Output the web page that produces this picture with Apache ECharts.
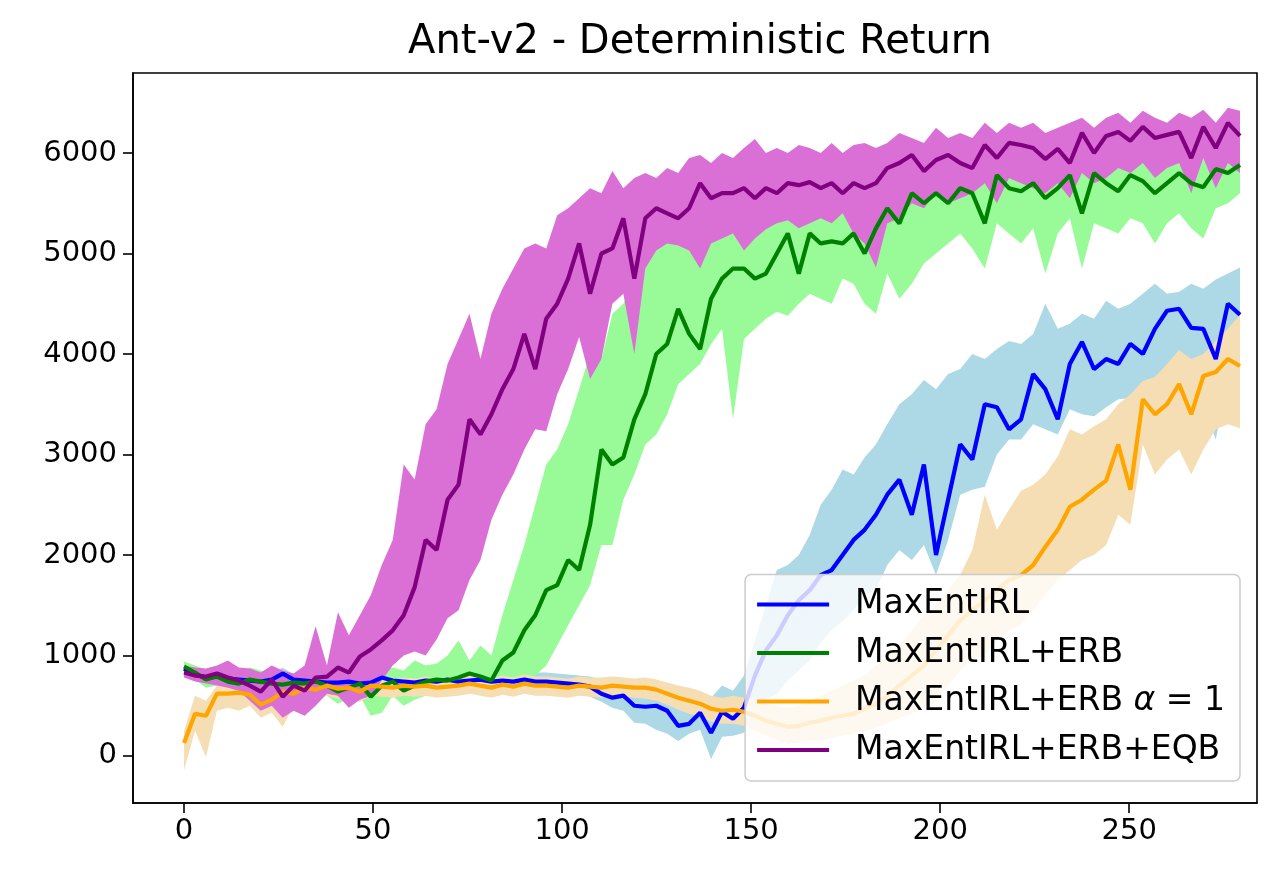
<!DOCTYPE html>
<html>
<head>
<meta charset="utf-8">
<title>Ant-v2 - Deterministic Return</title>
<script src="https://cdn.jsdelivr.net/npm/echarts@6/dist/echarts.min.js"></script>
<style>
  html, body { margin: 0; padding: 0; background: #fff; }
  #chart { width: 1280px; height: 885px; }
</style>
</head>
<body>
<div id="chart"></div>
<script>
// iteration of each sample
var xs = [0, 2.9, 5.8, 8.7, 11.6, 14.5, 17.4, 20.3, 23.2, 26.1,
  29.0, 31.9, 34.8, 37.8, 40.7, 43.6, 46.5, 49.4, 52.3, 55.2,
  58.1, 61.0, 63.9, 66.8, 69.7, 72.6, 75.5, 78.4, 81.3, 84.2,
  87.1, 90.0, 92.9, 95.8, 98.7, 101.6, 104.5, 107.4, 110.4, 113.3,
  116.2, 119.1, 122.0, 124.9, 127.8, 130.7, 133.6, 136.5, 139.4, 142.3,
  145.2, 148.1, 151.0, 153.9, 156.8, 159.7, 162.6, 165.5, 168.4, 171.3,
  174.2, 177.1, 180.0, 183.0, 186.0, 189.2, 192.5, 195.7, 198.9, 202.1,
  205.3, 208.5, 211.8, 215.0, 218.2, 221.4, 224.6, 227.8, 231.1, 234.3,
  237.5, 240.7, 243.9, 247.1, 250.3, 253.6, 256.8, 260.0, 263.2, 266.4,
  269.6, 272.9, 276.1, 279.3];

// MaxEntIRL
var blueMean = [870, 810, 780, 790, 770, 760, 750, 740, 760, 820,
  760, 750, 740, 730, 730, 740, 720, 730, 780, 750,
  740, 730, 750, 740, 760, 740, 750, 760, 740, 750,
  740, 760, 740, 740, 730, 720, 710, 690, 620, 580,
  600, 500, 490, 500, 450, 300, 320, 430, 230, 440,
  370, 480, 800, 1050, 1200, 1400, 1550, 1650, 1800, 1850,
  2000, 2150, 2250, 2400, 2600, 2750, 2400, 2900, 2000, 2550,
  3100, 2950, 3500, 3470, 3250, 3350, 3800, 3650, 3350, 3900,
  4120, 3850, 3950, 3900, 4100, 4000, 4250, 4430, 4450, 4260,
  4250, 3950, 4500, 4390];
var blueUpper = [920, 870, 840, 840, 820, 810, 800, 800, 820, 880,
  810, 800, 800, 790, 790, 800, 780, 790, 840, 810,
  800, 790, 820, 800, 830, 810, 820, 830, 820, 830,
  820, 840, 830, 830, 820, 810, 800, 790, 760, 720,
  740, 660, 650, 670, 630, 560, 600, 640, 580, 700,
  650, 800, 1150, 1500, 1850, 1900, 2000, 2200, 2500, 2650,
  2850, 2800, 2970, 3100, 3300, 3500, 3600, 3740, 3650, 3800,
  3850, 4000, 3950, 4050, 4130, 4100, 4200, 4500, 4250, 4300,
  4400, 4350, 4530, 4450, 4500, 4600, 4700, 4600, 4620, 4700,
  4650, 4740, 4800, 4860];
var blueLower = [820, 760, 730, 740, 720, 710, 700, 690, 700, 760,
  710, 700, 690, 680, 680, 690, 670, 680, 720, 700,
  690, 680, 700, 690, 700, 690, 700, 700, 690, 700,
  690, 700, 690, 680, 660, 640, 620, 590, 540, 480,
  450, 330, 320, 260, 220, 150, 220, 260, -30, 190,
  200, 230, 480, 560, 620, 750, 850, 950, 1130, 1250,
  1340, 1450, 1600, 1650, 1900, 2050, 1950, 2100, 1800, 2150,
  2600, 2650, 2680, 3000, 3150, 3150, 3300, 3250, 3200, 3450,
  3400, 3380, 3470, 3550, 3560, 3600, 3650, 3700, 3800, 3650,
  3480, 3150, 3750, 3700];

// MaxEntIRL+ERB
var greenMean = [890, 830, 760, 790, 740, 720, 760, 740, 720, 710,
  730, 720, 740, 700, 640, 680, 720, 590, 700, 740,
  650, 700, 740, 760, 750, 780, 820, 790, 750, 950,
  1030, 1250, 1400, 1650, 1700, 1950, 1850, 2300, 3050, 2900,
  2970, 3350, 3600, 4000, 4100, 4450, 4200, 4050, 4550, 4750,
  4850, 4850, 4750, 4800, 5000, 5200, 4800, 5200, 5100, 5120,
  5100, 5200, 5000, 5250, 5450, 5300, 5600, 5500, 5600, 5500,
  5650, 5600, 5300, 5780, 5650, 5620, 5700, 5550, 5650, 5780,
  5400, 5800, 5700, 5620, 5780, 5720, 5600, 5700, 5800, 5700,
  5660, 5840, 5800, 5880];
var greenUpper = [940, 900, 860, 880, 850, 830, 880, 850, 820, 850,
  820, 830, 850, 820, 800, 820, 860, 780, 850, 880,
  850, 950, 900, 920, 1000, 1150, 950, 1100, 1000, 1400,
  1750, 2100, 2500, 2900, 3050, 3300, 3650, 4000, 3950, 4400,
  4500, 4750, 4950, 5100, 5200, 5250, 5200, 5370, 5400, 5450,
  5350, 5450, 5500, 5480, 5540, 5620, 5560, 5600, 5580, 5620,
  5680, 5650, 5600, 5700, 5760, 5720, 5800, 5800, 5850, 5800,
  5900, 5850, 5750, 5950, 5900, 5850, 5950, 5850, 5900, 6000,
  5850, 6000, 5950, 5900, 6000, 5950, 5900, 5950, 6050, 5950,
  5950, 6050, 6000, 6050];
var greenLower = [850, 760, 680, 700, 650, 640, 680, 660, 640, 600,
  650, 630, 650, 600, 520, 580, 600, 400, 430, 600,
  500, 560, 600, 640, 650, 650, 680, 690, 600, 650,
  700, 800, 800, 900, 1100, 1300, 1500, 1700, 2100, 2100,
  2550, 2800, 3100, 3200, 3400, 3700, 3800, 3900, 4100, 4250,
  3350, 4150, 4250, 4350, 4420, 4380, 4500, 4600, 4550, 4500,
  4750, 4700, 4500, 4400, 4800, 4550, 4700, 4900, 5000, 5100,
  5200, 5050, 4850, 5300, 5200, 5100, 5250, 4800, 5200, 5350,
  4850, 5300, 5250, 5200, 5350, 5300, 5100, 5300, 5400, 5250,
  5150, 5450, 5500, 5600];

// MaxEntIRL+ERB alpha = 1
var orangeMean = [130, 420, 400, 620, 620, 630, 610, 510, 560, 640,
  620, 680, 660, 700, 670, 680, 640, 700, 690, 680,
  700, 690, 700, 680, 690, 700, 720, 700, 680, 710,
  690, 720, 700, 700, 690, 680, 700, 690, 680, 700,
  690, 680, 680, 660, 620, 580, 550, 520, 470, 450,
  460, 440, 400, 350, 320, 290, 300, 330, 350, 380,
  400, 420, 470, 520, 600, 700, 800, 900, 1050, 1200,
  1350, 1450, 1550, 1650, 1750, 1800, 1900, 2080, 2250, 2480,
  2550, 2650, 2740, 3100, 2650, 3550, 3400, 3500, 3700, 3400,
  3780, 3820, 3950, 3880];
var orangeUpper = [250, 600, 550, 700, 720, 720, 700, 650, 680, 720,
  720, 760, 750, 780, 760, 770, 740, 780, 770, 760,
  780, 770, 790, 770, 780, 790, 810, 790, 770, 800,
  780, 810, 790, 790, 780, 770, 790, 780, 780, 790,
  780, 770, 780, 760, 730, 700, 680, 650, 600, 580,
  600, 580, 560, 520, 500, 480, 500, 550, 600, 650,
  700, 750, 800, 900, 1000, 1100, 1250, 1400, 1500, 1650,
  1800, 2050, 2600, 2250, 2450, 2640, 2700, 2800, 2980, 3250,
  3200, 3280, 3350, 3500, 3600, 3730, 3770, 3900, 4040, 3950,
  4000, 4130, 4250, 4390];
var orangeLower = [-140, 250, -10, 450, 480, 450, 500, 380, 430, 290,
  500, 560, 560, 600, 570, 580, 540, 600, 590, 580,
  600, 590, 600, 580, 590, 600, 620, 600, 580, 610,
  590, 620, 600, 600, 590, 580, 600, 590, 580, 600,
  590, 580, 570, 550, 510, 460, 420, 390, 340, 320,
  320, 300, 250, 200, 160, 120, 130, 150, 150, 180,
  200, 220, 250, 280, 320, 380, 420, 480, 550, 700,
  850, 950, 1000, 1150, 1250, 1300, 1450, 1600, 1750, 1850,
  1950, 2000, 2100, 2400, 2300, 3100, 2800, 2950, 3050, 2800,
  3050, 3250, 3300, 3260];

// MaxEntIRL+ERB+EQB
var purpleMean = [830, 800, 790, 820, 780, 750, 700, 640, 760, 590,
  700, 650, 780, 790, 880, 830, 990, 1060, 1150, 1250,
  1400, 1680, 2150, 2050, 2550, 2700, 3350, 3200, 3400, 3650,
  3850, 4200, 3850, 4350, 4500, 4750, 5100, 4600, 5000, 5050,
  5350, 4750, 5350, 5450, 5400, 5350, 5450, 5700, 5550, 5600,
  5600, 5650, 5550, 5650, 5600, 5700, 5680, 5710, 5650, 5700,
  5600, 5700, 5650, 5700, 5850, 5900, 5980, 5820, 5930, 5980,
  5900, 5850, 6080, 5950, 6100, 6080, 6050, 5940, 6040, 5900,
  6200, 6000, 6170, 6210, 6120, 6260, 6150, 6180, 6210, 5950,
  6260, 6050, 6300, 6170];
var purpleUpper = [900, 880, 870, 900, 950, 880, 870, 830, 900, 850,
  820, 900, 1290, 900, 1430, 1200, 1400, 1600, 1900, 2150,
  2900, 2750, 3300, 3450, 3900, 4150, 4400, 3950, 4400, 4650,
  4850, 5050, 5100, 5050, 5380, 5450, 5550, 5650, 5600, 5820,
  5650, 5750, 5800, 5750, 5850, 5800, 5950, 5980, 5900, 6000,
  5950, 6050, 6140, 6000, 6050, 6000, 6080, 6050, 6000, 6100,
  6000, 6080, 6100, 6050, 6100, 6200, 6150, 6100, 6250, 6150,
  6200, 6150, 6300, 6200, 6300, 6250, 6300, 6200, 6250, 6300,
  6350, 6250, 6350, 6400, 6300, 6420, 6350, 6300, 6400, 6350,
  6430, 6300, 6450, 6420];
var purpleLower = [780, 740, 720, 700, 680, 650, 550, 450, 500, 380,
  450, 400, 500, 620, 600, 480, 560, 600, 750, 900,
  1000, 1040, 1000, 1160, 1370, 1450, 1750, 1950, 2350, 2600,
  2800, 3050, 3250, 3230, 3600, 3850, 4170, 3750, 3950, 4500,
  4600, 4000, 4850, 5030, 5100, 5080, 5030, 4850, 5100, 5150,
  5200, 5030, 5150, 5240, 5300, 5330, 5250, 5300, 5350, 5300,
  5400, 5200, 5100, 4860, 5300, 5350, 5500, 5450, 5600, 5500,
  5550, 5600, 5700, 5500, 5750, 5700, 5650, 5600, 5700, 5550,
  5800, 5700, 5750, 5850, 5800, 5900, 5750, 5850, 5900, 5600,
  5950, 5650, 5900, 5800];

var names = ['MaxEntIRL', 'MaxEntIRL+ERB', 'MaxEntIRL+ERB α = 1', 'MaxEntIRL+ERB+EQB'];
var xTicks = [0, 50, 100, 150, 200, 250];
var yTicks = [0, 1000, 2000, 3000, 4000, 5000, 6000];

var font = 'DejaVu Sans';

function pairs(arr) {
  return arr.map(function (v, i) { return [xs[i], v]; });
}

// shaded min/max band, drawn as one polygon through the axes' own scales
function band(lower, upper, color) {
  return {
    type: 'custom',
    silent: true,
    z: 1,
    data: [[0, 0]],
    renderItem: function (params, api) {
      var pts = [];
      var i;
      for (i = 0; i < upper.length; i++) pts.push(api.coord([xs[i], upper[i]]));
      for (i = lower.length - 1; i >= 0; i--) pts.push(api.coord([xs[i], lower[i]]));
      return { type: 'polygon', shape: { points: pts }, style: { fill: color } };
    }
  };
}

function line(name, arr, color) {
  return {
    name: name,
    type: 'line',
    data: pairs(arr),
    symbol: 'none',
    showSymbol: false,
    z: 3,
    lineStyle: { width: 4.2, color: color },
    itemStyle: { color: color }
  };
}

var myChart = echarts.init(document.getElementById('chart'));

var option = {
  animation: false,
  backgroundColor: '#fff',
  title: {
    text: 'Ant-v2 - Deterministic Return',
    left: 695,
    top: 18,
    textAlign: 'center',
    textStyle: { fontFamily: font, fontSize: 40, fontWeight: 'normal', color: '#000' }
  },
  grid: {
    left: 133, right: 23, top: 73, bottom: 82,
    containLabel: false,
    show: true,
    borderColor: '#000',
    borderWidth: 1.6,
    backgroundColor: 'transparent'
  },
  legend: {
    data: names,
    orient: 'vertical',
    right: 40,
    bottom: 104,
    icon: 'rect',
    itemWidth: 72,
    itemHeight: 4,
    itemGap: 12.5,
    padding: [12, 15, 13, 12],
    backgroundColor: 'rgba(255,255,255,0.8)',
    borderColor: '#cccccc',
    borderWidth: 1.5,
    borderRadius: 6,
    formatter: function (name) {
      if (name === names[2]) return '{a|MaxEntIRL+ERB }{i|α}{a| = 1}';
      return name;
    },
    textStyle: {
      fontFamily: font,
      fontSize: 33,
      lineHeight: 36,
      color: '#000',
      padding: [0, 0, 0, 21],
      rich: {
        a: { fontFamily: font, fontSize: 33, color: '#000' },
        i: { fontFamily: font, fontSize: 33, fontStyle: 'italic', color: '#000' }
      }
    }
  },
  xAxis: {
    type: 'value',
    min: -13.5,
    max: 283.8,
    splitLine: { show: false },
    axisLine: { show: true, onZero: false, lineStyle: { color: '#000', width: 1.6 } },
    axisTick: { show: true, length: 10, customValues: xTicks, lineStyle: { color: '#000', width: 1.6 } },
    axisLabel: { customValues: xTicks, margin: 14, fontFamily: font, fontSize: 29, color: '#000' }
  },
  yAxis: {
    type: 'value',
    min: -468,
    max: 6796,
    splitLine: { show: false },
    axisLine: { show: true, onZero: false, lineStyle: { color: '#000', width: 1.6 } },
    axisTick: { show: true, length: 10, customValues: yTicks, lineStyle: { color: '#000', width: 1.6 } },
    axisLabel: {
      customValues: yTicks,
      margin: 16,
      fontFamily: font,
      fontSize: 29,
      color: '#000',
      formatter: function (v) { return String(v); }
    }
  },
  series: [
    band(blueLower, blueUpper, '#add8e6'),
    band(greenLower, greenUpper, '#98fb98'),
    band(orangeLower, orangeUpper, '#f5deb3'),
    band(purpleLower, purpleUpper, '#da70d6'),
    line(names[0], blueMean, '#0000ff'),
    line(names[1], greenMean, '#008000'),
    line(names[2], orangeMean, '#ffa500'),
    line(names[3], purpleMean, '#800080')
  ]
};

myChart.setOption(option);
</script>
</body>
</html>
